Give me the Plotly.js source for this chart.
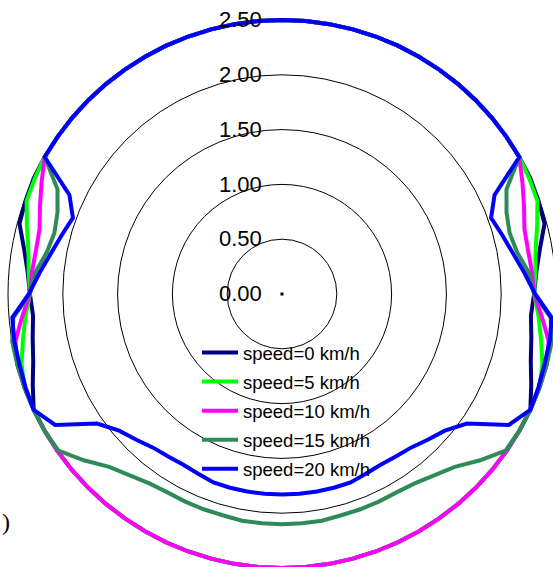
<!DOCTYPE html>
<html>
<head>
<meta charset="utf-8">
<script src="https://cdn.plot.ly/plotly-3.0.1.min.js"></script>
<style>
html,body{margin:0;padding:0;overflow:hidden;background:#fff;}
#chart{position:absolute;left:0;top:0;width:600px;height:600px;}
</style>
</head>
<body>
<div id="chart"></div>
<script>
// angles in degrees (0 = right, counterclockwise)
const theta = [0,5,10,15,20,25,30,35,40,45,50,55,60,65,70,75,80,85,90,95,100,105,110,115,120,125,130,135,140,145,150,155,160,165,170,175,180,185,190,195,200,205,210,215,220,225,230,235,240,245,250,255,260,265,270,275,280,285,290,295,300,305,310,315,320,325,330,335,340,345,350,355,360];

const speedLabels = ["speed=0 km/h","speed=5 km/h","speed=10 km/h","speed=15 km/h","speed=20 km/h"];

const r0 = [2.30,2.33,2.39,2.48,2.49,2.50,
  2.50,2.50,2.50,2.50,2.50,2.50,2.50,2.50,2.50,2.50,2.50,2.50,2.50,2.50,2.50,2.50,2.50,2.50,2.50,2.50,2.50,2.50,2.50,2.50,
  2.50,2.50,2.49,2.48,2.39,2.33,2.30,2.28,2.31,2.35,2.42,2.50,
  2.50,2.50,2.50,2.50,2.50,2.50,2.50,2.50,2.50,2.50,2.50,2.50,2.50,2.50,2.50,2.50,2.50,2.50,2.50,2.50,2.50,2.50,2.50,2.50,2.50,2.50,
  2.42,2.35,2.31,2.28,2.30];

const r5 = [2.30,2.32,2.35,2.41,2.48,2.49,
  2.50,2.50,2.50,2.50,2.50,2.50,2.50,2.50,2.50,2.50,2.50,2.50,2.50,2.50,2.50,2.50,2.50,2.50,2.50,2.50,2.50,2.50,2.50,2.50,
  2.50,2.49,2.48,2.41,2.35,2.32,2.30,2.35,2.40,2.46,2.50,2.50,
  2.50,2.50,2.50,2.50,2.50,2.50,2.50,2.50,2.50,2.50,2.50,2.50,2.50,2.50,2.50,2.50,2.50,2.50,2.50,2.50,2.50,2.50,2.50,2.50,2.50,2.50,
  2.50,2.46,2.40,2.35,2.30];

const r10 = [2.30,2.29,2.28,2.29,2.35,2.42,
  2.50,2.50,2.50,2.50,2.50,2.50,2.50,2.50,2.50,2.50,2.50,2.50,2.50,2.50,2.50,2.50,2.50,2.50,2.50,2.50,2.50,2.50,2.50,2.50,
  2.50,2.42,2.35,2.29,2.28,2.29,2.30,2.38,2.47,2.50,2.50,2.50,
  2.50,2.50,2.50,2.50,2.50,2.50,2.50,2.50,2.50,2.50,2.50,2.50,2.50,2.50,2.50,2.50,2.50,2.50,2.50,2.50,2.50,2.50,2.50,2.50,2.50,2.50,
  2.50,2.50,2.47,2.38,2.30];

const r15 = [2.30,2.26,2.18,2.15,2.18,2.26,
  2.50,2.50,2.50,2.50,2.50,2.50,2.50,2.50,2.50,2.50,2.50,2.50,2.50,2.50,2.50,2.50,2.50,2.50,2.50,2.50,2.50,2.50,2.50,2.50,
  2.50,2.26,2.18,2.15,2.18,2.26,2.30,2.46,2.50,2.50,2.50,2.50,2.50,2.49,2.36,2.23,2.16,2.11,2.09,2.09,2.09,2.09,2.10,2.10,2.10,
  2.10,2.10,2.09,2.09,2.09,2.09,2.11,2.16,2.23,2.36,2.49,2.50,2.50,2.50,2.50,2.50,2.46,2.30];

const r20 = [2.31,2.22,2.14,2.08,2.03,2.14,
  2.50,2.50,2.50,2.50,2.50,2.50,2.50,2.50,2.50,2.50,2.50,2.50,2.50,2.50,2.50,2.50,2.50,2.50,2.50,2.50,2.50,2.50,2.50,2.50,
  2.50,2.14,2.03,2.08,2.14,2.22,2.31,2.47,2.48,2.48,2.49,2.50,2.39,2.06,1.94,1.88,1.83,1.81,1.80,1.81,1.83,1.83,1.83,1.83,1.83,
  1.83,1.83,1.83,1.83,1.81,1.80,1.81,1.83,1.88,1.94,2.06,2.39,2.50,2.49,2.48,2.48,2.47,2.31];

const seriesR = [r0, r5, r10, r15, r20];
const colors = ["#000080","#00FF00","#FF00FF","#2E8B57","#0000FF"];

const radialTicks = [0, 0.5, 1.0, 1.5, 2.0, 2.5];
const radialTickText = ["0.00","0.50","1.00","1.50","2.00","2.50"];

// origin marker
const originR = [0];
const originTheta = [0];

const traces = seriesR.map((r, i) => ({
  type: "scatterpolar",
  mode: "lines",
  r: r,
  theta: theta,
  name: speedLabels[i],
  legendgroup: "g" + i,
  line: {color: colors[i], width: 4},
  cliponaxis: false
}));
traces.push({
  type: "scatterpolar", mode: "markers",
  r: originR, theta: originTheta,
  marker: {symbol: "square", size: 3, color: "#000"},
  showlegend: false, hoverinfo: "skip"
});

const W = 600, H = 600;
const cx = 282, cy = 294, R25 = 274;
const rMax = 2.54;
const R = R25 * rMax / 2.5;

const layout = {
  width: W, height: H,
  margin: {l:0, r:0, t:0, b:0},
  paper_bgcolor: "#fff",
  plot_bgcolor: "#fff",
  showlegend: true,
  font: {family: "Liberation Sans, Arial, sans-serif", color: "#000"},
  polar: {
    domain: {x: [(cx-R)/W, (cx+R)/W], y: [(H-cy-R)/H, (H-cy+R)/H]},
    bgcolor: "rgba(0,0,0,0)",
    gridshape: "linear",
    radialaxis: {
      range: [0, rMax],
      tickvals: radialTicks,
      ticktext: radialTickText,
      angle: 90,
      tickangle: 90,
      side: "counterclockwise",
      showline: false,
      gridcolor: "#000",
      gridwidth: 1,
      ticks: "outside",
      ticklen: 12,
      tickcolor: "rgba(0,0,0,0)",
      tickfont: {size: 22, family: "Liberation Sans, Arial, sans-serif", color: "#000"},
      layer: "above traces"
    },
    angularaxis: {
      rotation: 0,
      direction: "counterclockwise",
      dtick: 10,
      showgrid: false,
      showticklabels: false,
      ticks: "",
      showline: false
    }
  },
  legend: {
    x: 197/W, y: (H-334)/H,
    xanchor: "left", yanchor: "top",
    bgcolor: "rgba(0,0,0,0)",
    borderwidth: 0,
    itemwidth: 36,
    tracegroupgap: 2,
    font: {size: 18.5, family: "Liberation Sans, Arial, sans-serif", color: "#000"}
  },
  annotations: [{
    xref: "paper", yref: "paper",
    x: 0, y: (H-522)/H,
    xanchor: "left", yanchor: "middle",
    text: ")", showarrow: false,
    font: {family: "Liberation Serif, Times New Roman, serif", size: 24, color: "#000"}
  }]
};

Plotly.newPlot("chart", traces, layout, {staticPlot: true, displayModeBar: false});
</script>
</body>
</html>
